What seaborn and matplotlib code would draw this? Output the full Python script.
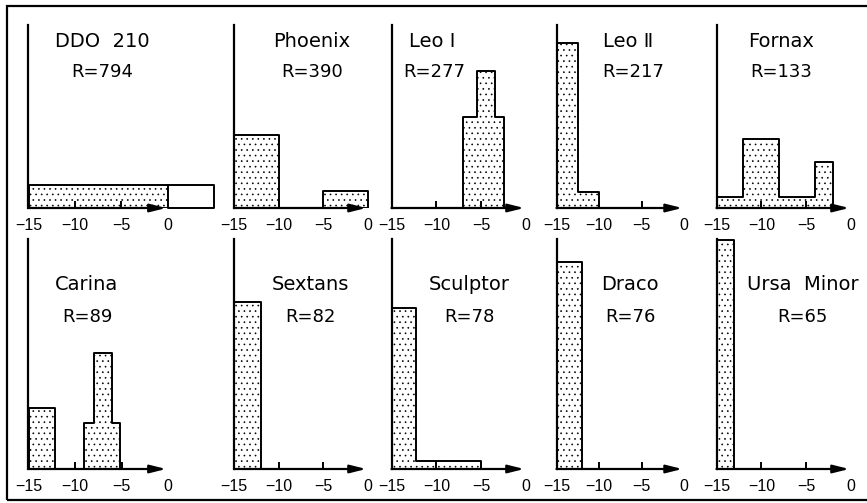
import numpy as np
import pandas as pd
import matplotlib
matplotlib.use("Agg")
import matplotlib.pyplot as plt
from matplotlib.patches import Rectangle
import seaborn as sns

# ---------------- data ----------------
galaxies = ["DDO  210", "Phoenix", "Leo Ⅰ", "Leo Ⅱ", "Fornax",
            "Carina", "Sextans", "Sculptor", "Draco", "Ursa  Minor"]
distances = [794, 390, 277, 217, 133, 89, 82, 78, 76, 65]

bin_edges = [
    [-15, 0],
    [-15, -10, -5, 0],
    [-7, -5.5, -3.5, -2.5],
    [-15, -12.5, -10],
    [-15, -12, -8, -4, -2],
    [-15, -12.2, -9, -8, -6, -5.2],
    [-15, -12],
    [-15, -12.3, -5],
    [-15, -12],
    [-15, -13],
]
bar_heights = [
    [23],
    [73, 0, 17],
    [91, 137, 91],
    [165, 16],
    [11, 69, 11, 46],
    [61, 0, 46, 116, 46],
    [167],
    [161, 8],
    [207],
    [229],
]
ddo_open_edges = [0, 5]
ddo_open_heights = [23]
row_ymax = [183, 230]
xticks = [-15, -10, -5, 0]
xtick_labels = ["−15", "−10", "−5", "0"]
tick_marks = [-10, -5]

# ---------------- layout ----------------
W, H = 867, 503
col_x15 = [28.5, 234, 391.5, 556.5, 716.5]
col_x0 = [168, 368, 526, 684, 851]
row_top = [25, 239]
row_base = [208, 469]
title_px = [(102, 47), (312, 47), (432, 47), (628, 47), (781, 47),
            (86, 290), (310, 290), (469, 290), (630, 290), (803, 290)]
rlab_px = [(102, 77), (312, 77), (434, 77), (633, 77), (781, 77),
           (87, 322), (310, 322), (469, 322), (630, 322), (802, 322)]
TICK_LEN_PX = 7

sns.set_theme(style="white")
plt.rcParams["font.family"] = ["Liberation Sans", "DejaVu Sans"]
plt.rcParams["hatch.linewidth"] = 0.45
plt.rcParams["axes.unicode_minus"] = True
label_family = ["DejaVu Sans", "Liberation Sans"]

fig = plt.figure(figsize=(W / 100, H / 100), dpi=100)
fig.patch.set_facecolor("white")

for i in range(10):
    row, col = divmod(i, 5)
    xr = 5.5 if i == 0 else 0.6
    ppu = (col_x0[col] - col_x15[col]) / 15.0
    left = col_x15[col]
    width = ppu * (15 + xr)
    top = row_top[row]
    base = row_base[row]
    ax = fig.add_axes([left / W, 1 - base / H, width / W, (base - top) / H])
    ax.set_facecolor("none")

    edges = [float(e) for e in bin_edges[i]]
    centers = [(a + b) / 2 for a, b in zip(edges[:-1], edges[1:])]
    df = pd.DataFrame({"age": centers, "n": bar_heights[i]})
    sns.histplot(data=df, x="age", weights="n", bins=edges, element="step",
                 fill=True, ax=ax, facecolor="white", edgecolor="black",
                 linewidth=1.4, hatch="...")
    if i == 0:
        oe = [float(e) for e in ddo_open_edges]
        dfo = pd.DataFrame({"age": [(oe[0] + oe[1]) / 2], "n": ddo_open_heights})
        sns.histplot(data=dfo, x="age", weights="n", bins=oe, element="step",
                     fill=True, ax=ax, facecolor="white", edgecolor="black",
                     linewidth=1.4)

    ymax = row_ymax[row]
    ax.set_xlim(-15, xr)
    ax.set_ylim(0, ymax)
    ax.set_xlabel("")
    ax.set_ylabel("")
    ax.set_yticks([])
    ax.set_xticks(xticks)
    ax.set_xticklabels(xtick_labels)
    ax.tick_params(axis="x", which="major", length=0, pad=7,
                   labelsize=11.5, colors="black")
    for s in ["top", "right", "bottom"]:
        ax.spines[s].set_visible(False)
    ax.spines["left"].set_color("black")
    ax.spines["left"].set_linewidth(1.6)

    # upward tick marks at -10 and -5 (axis decoration)
    tick_h = TICK_LEN_PX * ymax / (base - top)
    for tx_ in tick_marks:
        ax.plot([tx_, tx_], [0, tick_h], color="black", linewidth=1.4,
                solid_capstyle="butt", zorder=10, clip_on=False)

    ax.annotate("", xy=(-0.2, 0), xytext=(-15, 0), xycoords="data",
                arrowprops=dict(arrowstyle="-|>,head_length=0.8,head_width=0.2",
                                lw=1.6, color="black", shrinkA=0, shrinkB=0),
                annotation_clip=False)

    tx, ty = title_px[i]
    fig.text(tx / W, 1 - ty / H, galaxies[i], ha="center", va="baseline",
             fontsize=14, color="black", family=label_family)
    rx, ry = rlab_px[i]
    fig.text(rx / W, 1 - ry / H, f"R={distances[i]}", ha="center",
             va="baseline", fontsize=13, color="black", family=label_family)

frame = Rectangle((7 / W, 1 - 500 / H), (880 - 7) / W, (500 - 6) / H,
                  transform=fig.transFigure, fill=False, edgecolor="black",
                  linewidth=1.6, clip_on=False)
fig.add_artist(frame)

fig.savefig("out.png", dpi=100, facecolor="white")
